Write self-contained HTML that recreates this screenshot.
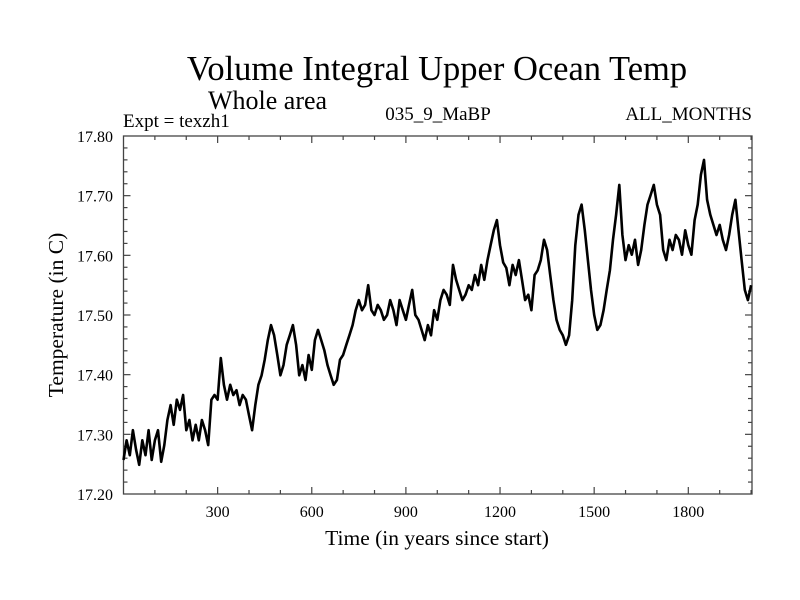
<!DOCTYPE html>
<html><head><meta charset="utf-8"><style>
body{margin:0;background:#fff}
svg{display:block;font-family:"Liberation Serif",serif}
</style></head><body>
<svg id="c" width="800" height="600">
<text x="437" y="80" font-size="34.5" text-anchor="middle">Volume Integral Upper Ocean Temp</text>
<text x="208" y="109" font-size="26">Whole area</text>
<text x="123" y="127" font-size="19">Expt = texzh1</text>
<text x="438" y="120" font-size="19" text-anchor="middle">035_9_MaBP</text>
<text x="752" y="120" font-size="19" text-anchor="end">ALL_MONTHS</text>
<text x="437" y="545" font-size="21.5" text-anchor="middle">Time (in years since start)</text>
<text transform="translate(63,315) rotate(-90)" font-size="21.5" text-anchor="middle">Temperature (in C)</text>
<g id="ax"></g>
</svg>
<script>
const years=[];for(let i=0;i<=200;i++)years.push(i*10);
const temps=[17.257,17.290,17.265,17.307,17.274,17.249,17.290,17.265,17.307,17.257,17.290,17.307,17.254,17.282,17.324,17.349,17.316,17.358,17.341,17.366,
17.307,17.324,17.290,17.316,17.290,17.324,17.307,17.282,17.358,17.366,17.358,17.428,17.383,17.358,17.383,17.366,17.374,17.349,17.366,17.358,
17.332,17.307,17.349,17.383,17.399,17.425,17.458,17.483,17.466,17.433,17.399,17.416,17.450,17.466,17.483,17.450,17.399,17.416,17.391,17.433,
17.408,17.458,17.475,17.458,17.441,17.416,17.399,17.383,17.391,17.425,17.433,17.450,17.466,17.483,17.508,17.525,17.508,17.517,17.550,17.508,
17.500,17.517,17.508,17.492,17.500,17.525,17.508,17.483,17.525,17.508,17.492,17.517,17.542,17.500,17.492,17.475,17.458,17.483,17.466,17.508,
17.492,17.525,17.542,17.534,17.517,17.584,17.559,17.542,17.525,17.534,17.550,17.542,17.567,17.550,17.584,17.559,17.592,17.617,17.642,17.659,
17.617,17.588,17.579,17.550,17.584,17.567,17.592,17.559,17.525,17.534,17.508,17.567,17.575,17.592,17.626,17.609,17.567,17.525,17.492,17.475,
17.466,17.450,17.466,17.525,17.617,17.668,17.685,17.642,17.592,17.542,17.500,17.475,17.483,17.508,17.542,17.575,17.626,17.668,17.718,17.634,
17.592,17.617,17.601,17.626,17.584,17.609,17.651,17.685,17.701,17.718,17.685,17.668,17.609,17.592,17.626,17.609,17.634,17.626,17.601,17.642,
17.617,17.601,17.659,17.685,17.735,17.760,17.693,17.668,17.651,17.634,17.651,17.626,17.609,17.634,17.668,17.693,17.642,17.592,17.542,17.525,17.550];
const xTicks=[300,600,900,1200,1500,1800];
const yTicks=[17.20,17.30,17.40,17.50,17.60,17.70,17.80];
const L=123.5,R=752,T=136,B=494,X0=0,X1=2003,Y0=17.2,Y1=17.8;
const sx=v=>L+(v-X0)/(X1-X0)*(R-L), sy=v=>B-(v-Y0)/(Y1-Y0)*(B-T);
const NS="http://www.w3.org/2000/svg", g=document.getElementById('ax');
function mk(t,a){const e=document.createElementNS(NS,t);for(const k in a)e.setAttribute(k,a[k]);g.appendChild(e);return e;}
const fr=mk('rect',{x:L,y:T,width:R-L,height:B-T,fill:'none',stroke:'#444','stroke-width':1.3});


for(let v=100;v<X1;v+=100){const big=v%300===0,len=big?7:4;
 const t1=mk('line',{x1:sx(v),x2:sx(v),y1:B,y2:B-len,stroke:'#444','stroke-width':1.2});
 
 
 const t2=mk('line',{x1:sx(v),x2:sx(v),y1:T,y2:T+len,stroke:'#444','stroke-width':1.2});
 
 }
xTicks.forEach(v=>{const t=mk('text',{x:sx(v),y:517,'font-size':16,'text-anchor':'middle'});t.textContent=v;
 
 });
for(let i=1;i<30;i++){const v=Y0+i*0.02,big=i%5===0,len=big?7:4;
 const t1=mk('line',{x1:L,x2:L+len,y1:sy(v),y2:sy(v),stroke:'#444','stroke-width':1.2});
 
 
 const t2=mk('line',{x1:R,x2:R-len,y1:sy(v),y2:sy(v),stroke:'#444','stroke-width':1.2});
 
 }
yTicks.forEach(v=>{const t=mk('text',{x:113,y:sy(v)+6,'font-size':16,'text-anchor':'end'});t.textContent=v.toFixed(2);
 
 });
const n=Math.min(years.length,temps.length);
let d='';for(let i=0;i<n;i++)d+=(i?'L':'M')+sx(years[i]).toFixed(1)+','+sy(temps[i]).toFixed(1);
const p=mk('path',{d:d,fill:'none',stroke:'#000','stroke-width':2.6,'stroke-linejoin':'round'});


</script>
</body></html>
